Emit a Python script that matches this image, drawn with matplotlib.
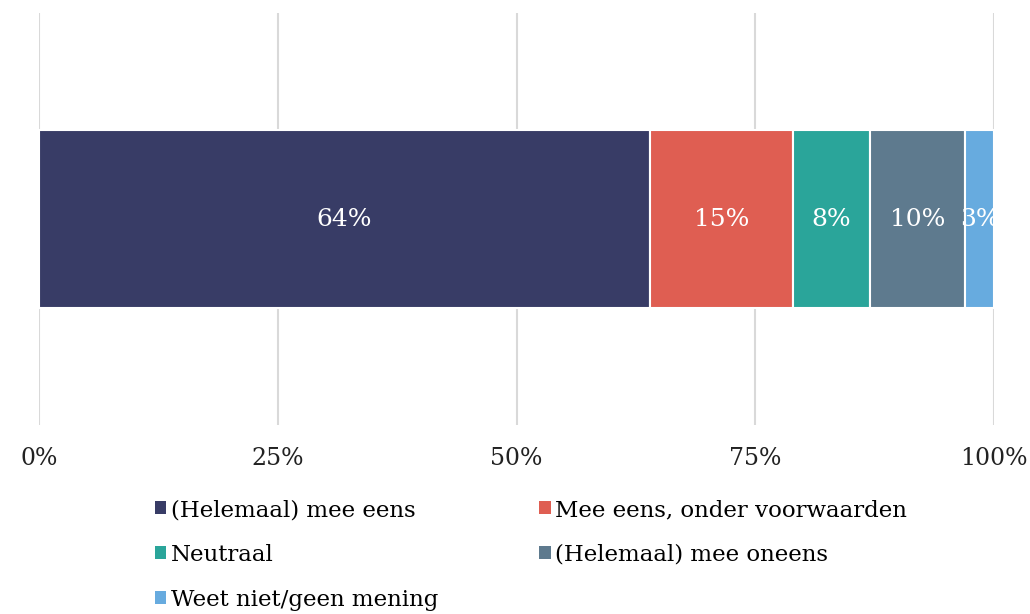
import matplotlib.pyplot as plt
from matplotlib.patches import Patch

categories = ["(Helemaal) mee eens", "Mee eens, onder voorwaarden", "Neutraal",
              "(Helemaal) mee oneens", "Weet niet/geen mening"]
values = [64, 15, 8, 10, 3]
colors = ["#383c66", "#df5e52", "#2aa59a", "#5e7a8e", "#67abdf"]
ticks = [0, 25, 50, 75, 100]
tick_labels = ["0%", "25%", "50%", "75%", "100%"]

plt.rcParams['font.family'] = ['DejaVu Serif']

fig = plt.figure(figsize=(10.3, 6.14), dpi=100)
ax = fig.add_axes([39/1030, 1-425/614, 955/1030, 412/614])

left = 0
for cat, val, col in zip(categories, values, colors):
    bars = ax.barh(0, val, left=left, height=0.432, color=col, edgecolor="white",
                   linewidth=1.5, zorder=3, label=cat)
    t = ax.text(left + val/2, 0, "%d%%" % val, color="white", fontsize=18,
                ha="center", va="center", zorder=4)
    t.set_clip_path(bars[0])
    left += val

ax.set_xlim(0, 100)
ax.set_ylim(-0.5, 0.5)
ax.set_xticks(ticks)
ax.set_xticklabels(tick_labels, fontsize=17, color="#222222")
ax.set_yticks([])
ax.tick_params(axis="x", length=0, pad=16)
ax.grid(True, axis="x", color="#d9d9d9", linewidth=1.5, zorder=0)
for s in ax.spines.values():
    s.set_visible(False)

# legend row-wise order
handles = [Patch(facecolor=c) for c in colors]
order = [0, 2, 4, 1, 3]
fig.legend([handles[i] for i in order], [categories[i] for i in order],
           ncol=2, loc="upper left", bbox_to_anchor=(155/1030, 1-499/614),
           frameon=False, fontsize=16.5, handlelength=0.5, handleheight=0.5,
           handletextpad=0.2, columnspacing=4.4, labelspacing=1.0,
           borderaxespad=0, borderpad=0)

plt.savefig("out.png", dpi=100)
